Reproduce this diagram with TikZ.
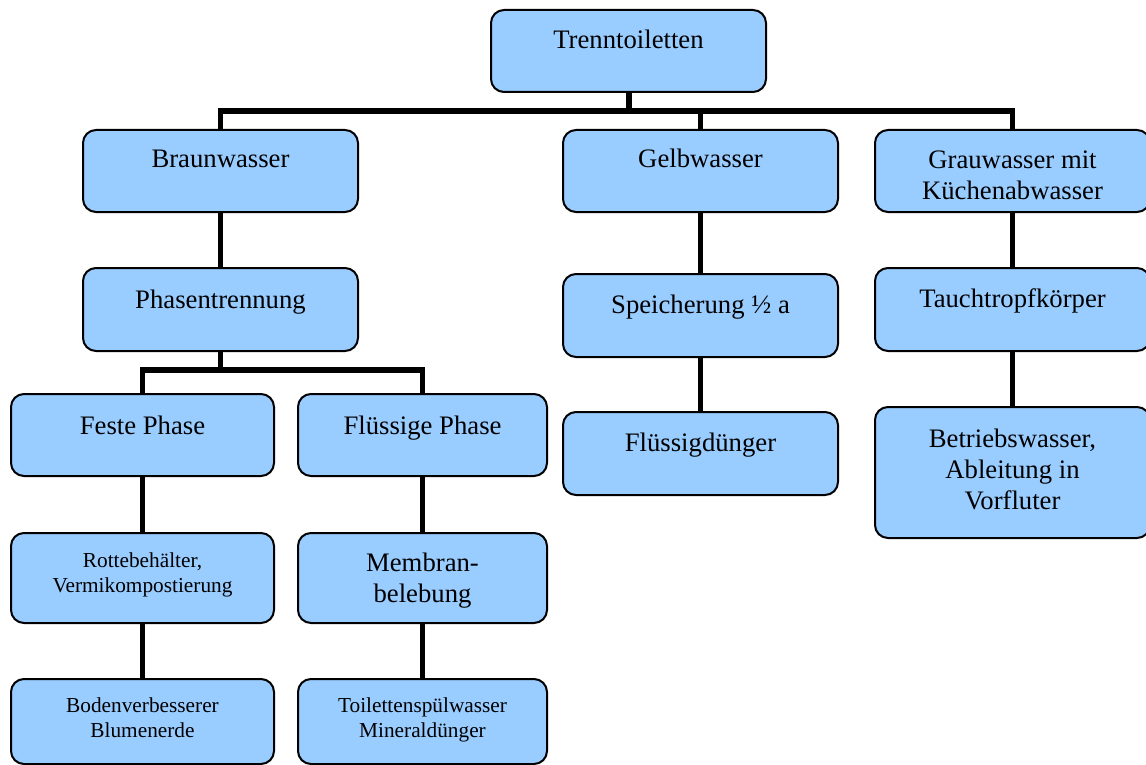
\documentclass[tikz,border=0pt]{standalone}
\usepackage{fontspec}
\setmainfont{Liberation Serif}
\usetikzlibrary{calc}
\definecolor{boxblue}{HTML}{99CCFF}
\newcommand{\bigtxt}{\fontsize{13.35}{15.5}\selectfont}
\newcommand{\smalltxt}{\fontsize{10.65}{12.5}\selectfont}
\tikzset{
  box/.style={draw=black, line width=1pt, fill=boxblue, rounded corners=6.5pt, inner sep=0pt},
  lbl/.style={anchor=base, align=center, inner sep=0pt, font=\bigtxt, text=black},
  slbl/.style={anchor=base, align=center, inner sep=0pt, font=\smalltxt, text=black},
  conn/.style={draw=black, line width=2.8pt},
}
\begin{document}
\begin{tikzpicture}[x=0.5pt, y=-0.5pt]
\path[use as bounding box, fill=white] (0,0) rectangle (1146,765);
\clip (0,0) rectangle (1146,765);

% boxes
\node[box, minimum width=137.5pt, minimum height=41pt] (T) at (628.5,51) {};
\node[box, minimum width=137.5pt, minimum height=41pt] (braun) at (220.5,171) {};
\node[box, minimum width=137.5pt, minimum height=41pt] (gelb) at (700.5,171) {};
\node[box, minimum width=137.5pt, minimum height=41pt] (grau) at (1012.5,171) {};
\node[box, minimum width=137.5pt, minimum height=41.5pt] (phasen) at (220.5,309.5) {};
\node[box, minimum width=137.5pt, minimum height=41.5pt] (speich) at (700.5,315.5) {};
\node[box, minimum width=137.5pt, minimum height=41.5pt] (tauch) at (1012.5,309.5) {};
\node[box, minimum width=131.5pt, minimum height=41pt] (fest) at (142.5,435) {};
\node[box, minimum width=124.5pt, minimum height=41pt] (fluess) at (422.5,435) {};
\node[box, minimum width=137.5pt, minimum height=41.5pt] (duenger) at (700.5,453.5) {};
\node[box, minimum width=137.5pt, minimum height=65.5pt] (betrieb) at (1012.5,472.5) {};
\node[box, minimum width=131.5pt, minimum height=45pt] (rotte) at (142.5,578) {};
\node[box, minimum width=124.5pt, minimum height=45pt] (membran) at (422.5,578) {};
\node[box, minimum width=131.5pt, minimum height=42.5pt] (boden) at (142.5,721.5) {};
\node[box, minimum width=124.5pt, minimum height=42.5pt] (toilet) at (422.5,721.5) {};

% connectors
\coordinate (barT) at (629,111);
\coordinate (barP) at (220.5,370);
\draw[conn] (T.south -| barT) -- (barT);
\draw[conn] (braun.north) |- (barT) -| (grau.north);
\draw[conn] (gelb.north) -- (gelb.north |- barT);
\draw[conn] (braun.south) -- (phasen.north);
\draw[conn] (phasen.south) -- (barP);
\draw[conn] (fest.north) |- (barP) -| (fluess.north);
\draw[conn] (gelb.south) -- (speich.north);
\draw[conn] (speich.south) -- (duenger.north);
\draw[conn] (grau.south) -- (tauch.north);
\draw[conn] (tauch.south) -- (betrieb.north);
\draw[conn] (fest.south) -- (rotte.north);
\draw[conn] (rotte.south) -- (boden.north);
\draw[conn] (fluess.south) -- (membran.north);
\draw[conn] (membran.south) -- (toilet.north);

% labels (base = baseline of the last line)
\node[lbl] (tT) at (628.5,49) {Trenntoiletten};
\node[lbl] (tbraun) at (220.5,168) {Braunwasser};
\node[lbl] (tgelb) at (700.5,168) {Gelbwasser};
\node[lbl] (tgrau) at (1012.5,199) {Grauwasser mit\\Küchenabwasser};
\node[lbl] (tphasen) at (220.5,308) {Phasentrennung};
\node[lbl] (tspeich) at (700.5,313) {Speicherung ½ a};
\node[lbl] (ttauch) at (1012.5,307) {Tauchtropfkörper};
\node[lbl] (tfest) at (142.5,434) {Feste Phase};
\node[lbl] (tfluess) at (422.5,434) {Flüssige Phase};
\node[lbl] (tduenger) at (700.5,451) {Flüssigdünger};
\node[lbl] (tbetrieb) at (1012.5,509) {Betriebswasser,\\Ableitung in\\Vorfluter};
\node[slbl] (trotte) at (142.5,592) {Rottebehälter,\\Vermikompostierung};
\node[lbl] (tmembran) at (422.5,602) {Membran-\\belebung};
\node[slbl] (tboden) at (142.5,737) {Bodenverbesserer\\Blumenerde};
\node[slbl] (ttoilet) at (422.5,737) {Toilettenspülwasser\\Mineraldünger};
\end{tikzpicture}
\end{document}
